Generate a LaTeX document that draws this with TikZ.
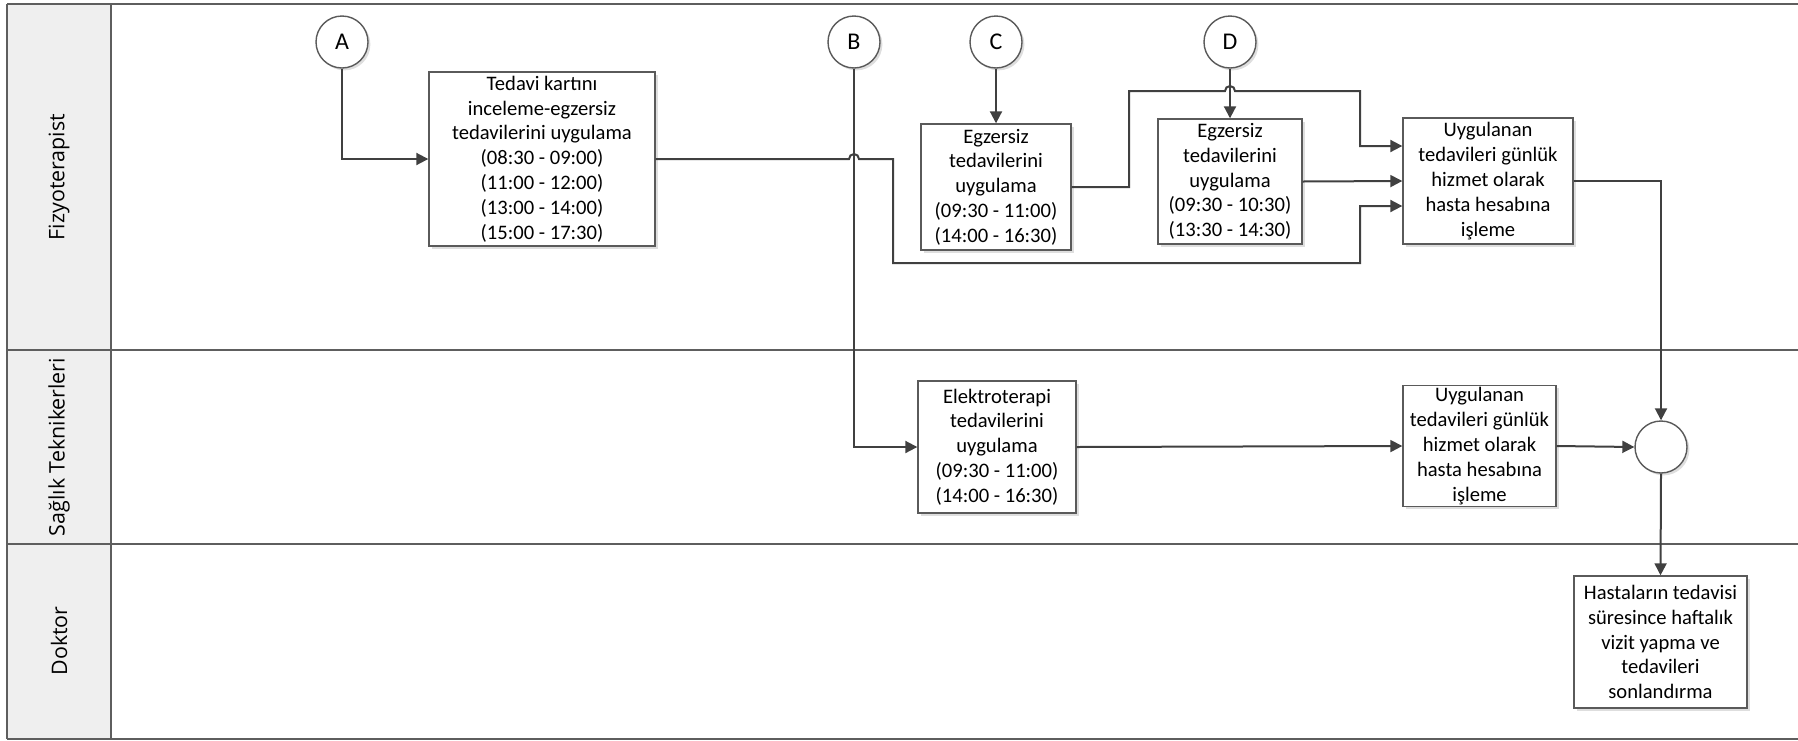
\documentclass[tikz,border=0pt]{standalone}
\usepackage{fontspec}
\setmainfont{Carlito}
\newfontfamily\lanefont{Open Sans}
\usetikzlibrary{arrows.meta,shadows}
\definecolor{laneline}{HTML}{5E5E5E}
\definecolor{conncol}{HTML}{404040}
\definecolor{boxline}{HTML}{5A5A5A}
\definecolor{headfill}{HTML}{EFEFEF}
\tikzset{
  procbox/.style={draw=boxline, line width=0.7pt, fill=white, align=center,
    font=\fontsize{10.3}{12.4}\selectfont, inner sep=1pt,
    general shadow={fill=black!13, shadow xshift=1.3pt, shadow yshift=-1.3pt}},
  conncirc/.style={draw=boxline, line width=0.7pt, fill=white, circle,
    minimum size=26pt, inner sep=0pt, font=\fontsize{12}{14}\selectfont,
    general shadow={fill=black!13, shadow xshift=1.2pt, shadow yshift=-1.2pt}},
  conn/.style={draw=conncol, line width=1pt, -{Triangle[length=6pt,width=6pt]}},
  lanelabel/.style={rotate=90, font=\lanefont\fontsize{10.7}{12}\selectfont},
  laneedge/.style={draw=laneline, line width=1pt}
}
\begin{document}
\begin{tikzpicture}[x=0.5pt,y=-0.5pt]
\useasboundingbox (0,0) rectangle (1798,740);
% swimlanes
\fill[headfill] (7,3.5) rectangle (111,739);
\draw[laneedge] (7,3.5) -- (1798,3.5);
\draw[laneedge] (7,350) -- (1798,350);
\draw[laneedge] (7,544) -- (1798,544);
\draw[laneedge] (7,739) -- (1798,739);
\draw[laneedge] (7,3.5) -- (7,739);
\draw[laneedge] (111,3.5) -- (111,739);
\node[lanelabel] (l1) at (59,177) {Fizyoterapist};
\node[lanelabel] (l2) at (59,447) {Sağlık Teknikerleri};
\node[lanelabel] (l3) at (59,641) {Doktor};
% connector circles
\node[conncirc] (A) at (342,42) {A};
\node[conncirc] (B) at (854,42) {B};
\node[conncirc] (C) at (996,42) {C};
\node[conncirc] (D) at (1230,42) {D};
\node[conncirc] (J) at (1661,447) {};
% boxes
\node[procbox, minimum width=113pt, minimum height=87pt] (t1) at (542,159)
  {Tedavi kartını\\inceleme-egzersiz\\tedavilerini uygulama\\(08:30 - 09:00)\\(11:00 - 12:00)\\(13:00 - 14:00)\\(15:00 - 17:30)};
\node[procbox, minimum width=75pt, minimum height=63pt] (eC) at (996,187)
  {Egzersiz\\tedavilerini\\uygulama\\(09:30 - 11:00)\\(14:00 - 16:30)};
\node[procbox, minimum width=72pt, minimum height=62.5pt] (eD) at (1230,181.5)
  {Egzersiz\\tedavilerini\\uygulama\\(09:30 - 10:30)\\(13:30 - 14:30)};
\node[procbox, minimum width=85pt, minimum height=63pt] (u1) at (1488,181)
  {Uygulanan\\tedavileri günlük\\hizmet olarak\\hasta hesabına\\işleme};
\node[procbox, minimum width=79pt, minimum height=66pt] (el) at (997,447)
  {Elektroterapi\\tedavilerini\\uygulama\\(09:30 - 11:00)\\(14:00 - 16:30)};
\node[procbox, minimum width=76.5pt, minimum height=58pt] (u2) at (1479.5,446)
  {Uygulanan\\tedavileri günlük\\hizmet olarak\\hasta hesabına\\işleme};
\node[procbox, minimum width=86.5pt, minimum height=66pt] (fin) at (1660.5,642)
  {Hastaların tedavisi\\süresince haftalık\\vizit yapma ve\\tedavileri\\sonlandırma};
% connectors
\draw[conn] (A.south) |- (t1.west);
\draw[conn] (B.south) |- (el.west);
\draw[conn] (C.south) -- (eC.north);
\draw[conn] (D.south) -- (eD.north);
\draw[conn] (t1.east) -- (849,159) arc[start angle=180,end angle=0,radius=2.5pt]
  -- (893,159) |- (1360,263) |- ([yshift=-12.5pt]u1.west);
\draw[conn] (eC.east) -| (1129,91) -- (1225,91) arc[start angle=180,end angle=0,radius=2.5pt]
  -- (1360,91) |- ([yshift=17.5pt]u1.west);
\draw[conn] (eD.east) -- (u1.west);
\draw[conn] (u1.east) -| (J.north);
\draw[conn] (el.east) -- (u2.west);
\draw[conn] (u2.east) -- (J.west);
\draw[conn] (J.south) -- (fin.north);
\end{tikzpicture}
\end{document}
